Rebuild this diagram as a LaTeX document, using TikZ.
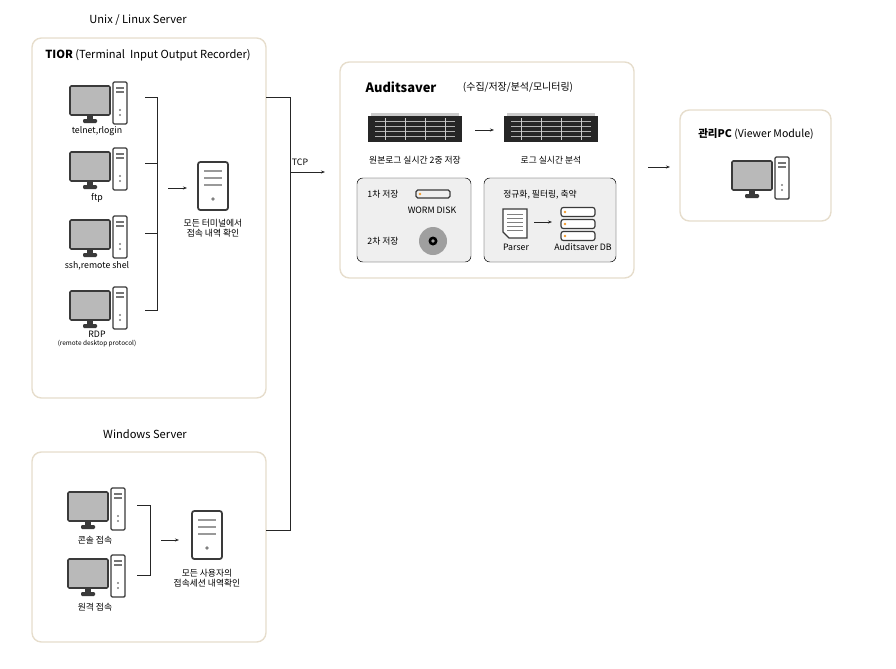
\documentclass[tikz,border=0pt]{standalone}
\usepackage{fontspec}
\setmainfont{Noto Sans CJK KR}
\usetikzlibrary{arrows.meta}
\definecolor{boxline}{HTML}{E6DDCC}
\definecolor{panel}{HTML}{EFEFEF}
\definecolor{icon}{HTML}{3A3A3A}
\definecolor{dot}{HTML}{F39A2B}
\tikzset{
  frame/.style={draw=boxline, line width=1.2pt, rounded corners=8pt, fill=white},
  inner/.style={fill=panel, rounded corners=5pt},
  lbl/.style={font=\fontsize{7.5}{9}\selectfont, align=center},
  title/.style={font=\fontsize{9.5}{11}\selectfont},
  wire/.style={line width=0.8pt, black!85},
  arr/.style={wire, -{Stealth[length=3.5pt]}},
  pc/.pic={
    \draw[icon, line width=1.3pt, fill=gray!55, rounded corners=1pt] (-27,-16) rectangle (13,13);
    \fill[icon] (-10,13) rectangle (-4,18);
    \fill[icon, rounded corners=1pt] (-14,17) rectangle (0,21);
    \draw[icon, line width=1.1pt, fill=white, rounded corners=1pt] (16,-20) rectangle (30,22);
    \draw[icon!70, line width=1pt] (19,-14) -- (27,-14) (19,-10) -- (27,-10);
    \fill[gray] (23,8) circle (1.2) (23,13) circle (1.2);
  },
  tower/.pic={
    \draw[icon, line width=1.5pt, fill=white, rounded corners=2pt] (-15,-24) rectangle (15,24);
    \draw[gray!80, line width=2.5pt] (-9,-15) -- (9,-15) (-9,-8) -- (9,-8) (-9,-1) -- (9,-1);
    \fill[gray] (0,13) circle (1.8);
  },
  rack/.pic={
    \fill[black!85] (-47,-13) rectangle (47,13);
    \fill[gray!40] (-44,-16) rectangle (44,-13);
    \foreach \r in {-8,-3,2,7}
      \draw[gray!60, line width=0.7pt] (-40,\r) -- (40,\r);
    \foreach \c in {-30,-10,10,30}
      \draw[gray!40] (\c,-11) -- (\c,11);
  },
  disk/.pic={
    \draw[icon, line width=1pt, rounded corners=1.5pt] (-17,-4) rectangle (17,4);
    \fill[dot] (-13,0) circle (1.3);
  },
  dbrow/.pic={
    \draw[icon, line width=1pt, fill=white, rounded corners=2pt] (-17,-4.5) rectangle (17,4.5);
    \fill[dot] (-13,0) circle (1.3);
  }
}
\begin{document}
\begin{tikzpicture}[x=0.03cm, y=-0.03cm]
\useasboundingbox (0,0) rectangle (896,668);

% Unix / Linux server
\node[title] (unixtitle) at (138,20) {Unix / Linux Server};
\draw[frame] (32,38) rectangle (266,398);
\node[title] (tior) at (148,55) {\textbf{TIOR} (Terminal\ \ Input Output Recorder)};

\pic at (97,102) {pc};
\node[lbl] (telnet) at (97,131) {telnet,rlogin};
\pic at (97,168) {pc};
\node[lbl] (ftp) at (97,198) {ftp};
\pic at (97,236) {pc};
\node[lbl] (ssh) at (97,266) {ssh,remote shel};
\pic at (97,307) {pc};
\node[lbl] (rdp) at (97,339) {RDP\\[-2pt]{\fontsize{5.5}{6}\selectfont (remote desktop protocol)}};

\coordinate (u1) at (145,97);
\coordinate (u2) at (145,163);
\coordinate (u3) at (145,233);
\coordinate (u4) at (145,310);
\coordinate (ubar) at (157,97);
\coordinate (ubarend) at (157,310);
\draw[wire] (u1) -- (ubar) -- (ubarend) -- (u4);
\draw[wire] (u2) -- (u2 -| ubar);
\draw[wire] (u3) -- (u3 -| ubar);
\coordinate (ua) at (168,188);
\coordinate (ub) at (187,188);
\draw[arr] (ua) -- (ub);
\pic at (213,186) {tower};
\node[lbl] (terminal) at (213,228) {모든 터미널에서\\접속 내역 확인};

% Windows server
\node[title] (wintitle) at (145,434) {Windows Server};
\draw[frame] (32,452) rectangle (266,642);
\pic at (95,508) {pc};
\node[lbl] (console) at (95,540) {콘솔 접속};
\pic at (95,575) {pc};
\node[lbl] (remote) at (95,607) {원격 접속};
\coordinate (w1) at (137,505);
\coordinate (w2) at (137,575);
\coordinate (wbar) at (150,505);
\coordinate (wbarend) at (150,575);
\draw[wire] (w1) -- (wbar) -- (wbarend) -- (w2);
\coordinate (wa) at (161,540);
\coordinate (wb) at (179,540);
\draw[arr] (wa) -- (wb);
\pic at (207,535) {tower};
\node[lbl] (session) at (207,578) {모든 사용자의\\접속세션 내역확인};

% TCP link
\coordinate (t1) at (266,97);
\coordinate (t2) at (290,97);
\coordinate (t3) at (290,530);
\coordinate (t4) at (266,530);
\draw[wire] (t1) -- (t2) -- (t3) -- (t4);
\coordinate (tcpend) at (325,172);
\draw[arr] (t2 |- tcpend) -- (tcpend);
\node[lbl] (tcp) at (300,162) {TCP};

% Auditsaver
\draw[frame] (340,62) rectangle (634,278);
\node[font=\fontsize{11}{12}\selectfont\bfseries] (audit) at (401,87) {Auditsaver};
\node[font=\fontsize{8.5}{10}\selectfont] (auditsub) at (518,87) {(수집/저장/분석/모니터링)};
\pic at (415,129) {rack};
\pic at (551,129) {rack};
\coordinate (ra) at (475,130);
\coordinate (rb) at (494,130);
\draw[arr] (ra) -- (rb);
\node[lbl] (dual) at (415,160) {원본로그 실시간 2중 저장};
\node[lbl] (realtime) at (551,160) {로그 실시간 분석};

\draw[inner] (357,178) rectangle (471,262);
\node[lbl] (first) at (383,194) {1차 저장};
\pic at (433,194) {disk};
\node[lbl] (worm) at (432,210) {WORM DISK};
\node[lbl] (second) at (383,241) {2차 저장};
\fill[gray!75] (433,241) circle (14);
\fill[black] (433,241) circle (4.5);
\fill[gray!75] (433,241) circle (1.8);

\draw[inner] (484,178) rectangle (616,262);
\node[lbl] (norm) at (540,195) {정규화, 필터링, 축약};
\draw[icon, line width=1pt, fill=white] (503,209) -- (527,209) -- (527,238) -- (509,238) -- (503,232) -- cycle;
\foreach \l in {214,218,222,226,230}
  \draw[gray] (507,\l) -- (523,\l);
\node[lbl] (parser) at (516,247) {Parser};
\coordinate (pa) at (534,222);
\coordinate (pb) at (552,222);
\draw[arr] (pa) -- (pb);
\pic at (578,212) {dbrow};
\pic at (578,224) {dbrow};
\pic at (578,236) {dbrow};
\node[lbl] (db) at (583,247) {Auditsaver DB};

% Viewer
\coordinate (va) at (648,167);
\coordinate (vb) at (670,167);
\draw[arr] (va) -- (vb);
\draw[frame] (680,110) rectangle (831,221);
\node[font=\fontsize{9}{10}\selectfont] (viewer) at (756,134) {\textbf{관리PC} (Viewer Module)};
\pic at (759,177) {pc};
\end{tikzpicture}
\end{document}
